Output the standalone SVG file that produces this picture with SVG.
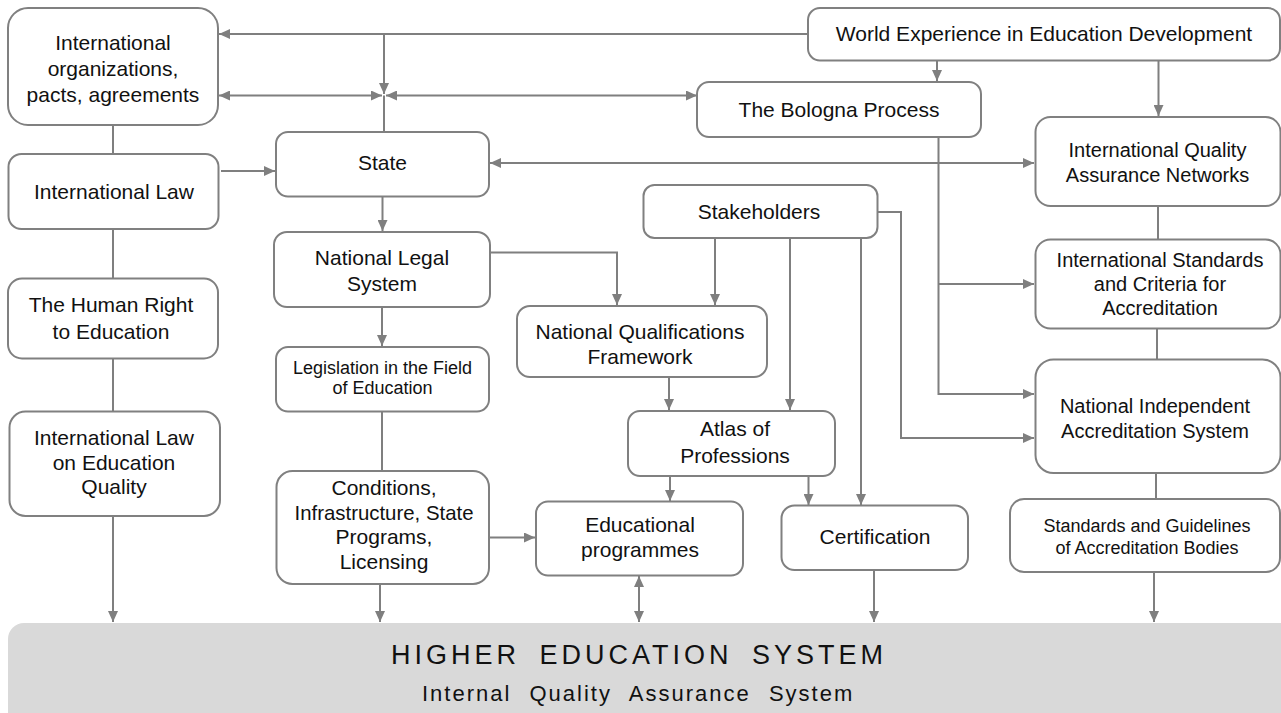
<svg xmlns="http://www.w3.org/2000/svg" width="1281" height="713" viewBox="0 0 1281 713">
<style>
.box{fill:#ffffff;stroke:#808080;stroke-width:2}
.t{font-family:"Liberation Sans",Arial,sans-serif;font-size:21px;fill:#111;text-anchor:middle}
.m{font-size:20px}
.s{font-size:18px}
.c{fill:none;stroke:#7f7f7f;stroke-width:2}
.hes{font-family:"Liberation Sans",Arial,sans-serif;fill:#111}
</style>
<defs>
<marker id="ah" markerUnits="userSpaceOnUse" markerWidth="11" markerHeight="10" refX="11" refY="5" orient="auto-start-reverse">
<path d="M0,0 L11,5 L0,10 z" fill="#7f7f7f"/>
</marker>
</defs>
<rect width="1281" height="713" fill="#ffffff"/>

<g id="hes">
<rect x="8" y="623" width="1290" height="120" rx="16" fill="#d9d9d9"/>
<text class="hes" x="391" y="664" font-size="27" letter-spacing="4" word-spacing="8">HIGHER EDUCATION SYSTEM</text>
<text class="hes" x="422" y="701" font-size="22" letter-spacing="2" word-spacing="10">Internal Quality Assurance System</text>
</g>

<g id="connectors">
<path class="c" d="M808,34 H219" marker-end="url(#ah)"/>
<path class="c" d="M384,34 V94" marker-end="url(#ah)"/>
<path class="c" d="M219,95.5 H382" marker-start="url(#ah)" marker-end="url(#ah)"/>
<path class="c" d="M386,95.5 H697" marker-start="url(#ah)" marker-end="url(#ah)"/>
<path class="c" d="M384,95.5 V132"/>
<path class="c" d="M113,125 V154"/>
<path class="c" d="M221,171 H275" marker-end="url(#ah)"/>
<path class="c" d="M113,229 V279"/>
<path class="c" d="M113,358 V412"/>
<path class="c" d="M113,516 V622" marker-end="url(#ah)"/>
<path class="c" d="M382.5,197 V231" marker-end="url(#ah)"/>
<path class="c" d="M382,307 V346" marker-end="url(#ah)"/>
<path class="c" d="M382,411 V471"/>
<path class="c" d="M380,584 V622" marker-end="url(#ah)"/>
<path class="c" d="M490,537.5 H535" marker-end="url(#ah)"/>
<path class="c" d="M639,576 V622" marker-start="url(#ah)" marker-end="url(#ah)"/>
<path class="c" d="M490,252.5 H617 V305" marker-end="url(#ah)"/>
<path class="c" d="M715,238 V305" marker-end="url(#ah)"/>
<path class="c" d="M790,238 V410" marker-end="url(#ah)"/>
<path class="c" d="M861,238 V505" marker-end="url(#ah)"/>
<path class="c" d="M878,212 H901 V438 H1034" marker-end="url(#ah)"/>
<path class="c" d="M669,377 V410" marker-end="url(#ah)"/>
<path class="c" d="M670,476 V501" marker-end="url(#ah)"/>
<path class="c" d="M808.5,476 V505" marker-end="url(#ah)"/>
<path class="c" d="M874,570 V622" marker-end="url(#ah)"/>
<path class="c" d="M937,61 V81" marker-end="url(#ah)"/>
<path class="c" d="M1158.5,61 V116" marker-end="url(#ah)"/>
<path class="c" d="M490,163 H1034" marker-start="url(#ah)" marker-end="url(#ah)"/>
<path class="c" d="M938.5,137 V394 H1034" marker-end="url(#ah)"/>
<path class="c" d="M938.5,284 H1034" marker-end="url(#ah)"/>
<path class="c" d="M1158,206 V239"/>
<path class="c" d="M1157,328 V359"/>
<path class="c" d="M1156,473 V498"/>
<path class="c" d="M1154,572 V622" marker-end="url(#ah)"/>
</g>

<g id="n-intl-org"><rect class="box" x="8" y="8" width="210" height="117" rx="20"/>
<text class="t" x="113" y="50">International</text><text class="t" x="113" y="76">organizations,</text><text class="t" x="113" y="102">pacts, agreements</text></g>
<g id="n-intl-law"><rect class="box" x="8.5" y="154" width="210" height="75" rx="13"/>
<text class="t" x="114" y="199">International Law</text></g>
<g id="n-human-right"><rect class="box" x="8" y="278.5" width="210" height="80" rx="14"/>
<text class="t" x="111" y="312">The Human Right</text><text class="t" x="111" y="338.5">to Education</text></g>
<g id="n-law-quality"><rect class="box" x="9.5" y="411.5" width="210.5" height="104.5" rx="16"/>
<text class="t" x="114" y="445">International Law</text><text class="t" x="114" y="469.5">on Education</text><text class="t" x="114" y="494">Quality</text></g>
<g id="n-state"><rect class="box" x="276" y="132" width="213" height="64.5" rx="12"/>
<text class="t" x="382.5" y="169.5">State</text></g>
<g id="n-nls"><rect class="box" x="274" y="232" width="216" height="75" rx="13"/>
<text class="t" x="382" y="264.5">National Legal</text><text class="t" x="382" y="291">System</text></g>
<g id="n-legislation"><rect class="box" x="276" y="347" width="213" height="64.5" rx="12"/>
<text class="t s" x="382.5" y="373.5">Legislation in the Field</text><text class="t s" x="382.5" y="393.5">of Education</text></g>
<g id="n-conditions"><rect class="box" x="276.5" y="471" width="212.5" height="113" rx="16"/>
<text class="t" x="384" y="495">Conditions,</text><text class="t" x="384" y="519.5" textLength="179" lengthAdjust="spacingAndGlyphs">Infrastructure, State</text><text class="t" x="384" y="544">Programs,</text><text class="t" x="384" y="568.5">Licensing</text></g>
<g id="n-world"><rect class="box" x="808" y="8" width="472" height="52.5" rx="12"/>
<text class="t" x="1044" y="41">World Experience in Education Development</text></g>
<g id="n-bologna"><rect class="box" x="697" y="82" width="284" height="55" rx="12"/>
<text class="t" x="839" y="117">The Bologna Process</text></g>
<g id="n-iqan"><rect class="box" x="1035.5" y="117" width="245" height="89" rx="15"/>
<text class="t m" x="1157.5" y="157">International Quality</text><text class="t m" x="1157.5" y="181.5">Assurance Networks</text></g>
<g id="n-stakeholders"><rect class="box" x="643.5" y="185" width="234" height="53" rx="11"/>
<text class="t" x="759" y="219">Stakeholders</text></g>
<g id="n-intl-std"><rect class="box" x="1035.5" y="239.5" width="245" height="89" rx="15"/>
<text class="t m" x="1160" y="266.5">International Standards</text><text class="t m" x="1160" y="291">and Criteria for</text><text class="t m" x="1160" y="315">Accreditation</text></g>
<g id="n-nqf"><rect class="box" x="517" y="306" width="250" height="71" rx="13"/>
<text class="t" x="640" y="338.5">National Qualifications</text><text class="t" x="640" y="364">Framework</text></g>
<g id="n-atlas"><rect class="box" x="628" y="411" width="207" height="65" rx="12"/>
<text class="t" x="735" y="436">Atlas of</text><text class="t" x="735" y="462.5">Professions</text></g>
<g id="n-nias"><rect class="box" x="1035.5" y="359.5" width="245" height="113.5" rx="18"/>
<text class="t m" x="1155" y="413">National Independent</text><text class="t m" x="1155" y="438">Accreditation System</text></g>
<g id="n-edprog"><rect class="box" x="536" y="501.5" width="207" height="74" rx="12"/>
<text class="t" x="640" y="531.5">Educational</text><text class="t" x="640" y="557">programmes</text></g>
<g id="n-cert"><rect class="box" x="781.5" y="505.5" width="186.5" height="64.5" rx="13"/>
<text class="t" x="875" y="543.5">Certification</text></g>
<g id="n-stdguide"><rect class="box" x="1010" y="499" width="270" height="73" rx="14"/>
<text class="t s" x="1147" y="531.5">Standards and Guidelines</text><text class="t s" x="1147" y="553.5">of Accreditation Bodies</text></g>
</svg>
